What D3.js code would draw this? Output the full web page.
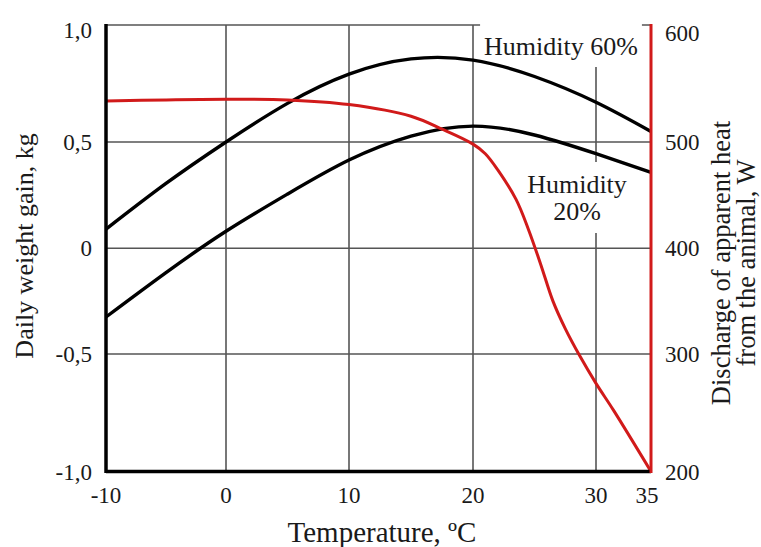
<!DOCTYPE html>
<html>
<head>
<meta charset="utf-8">
<script src="https://cdn.jsdelivr.net/npm/d3@7"></script>
<style>
    body { margin: 0; background: #fff; }
</style>
</head>
<body>
<div id="chart"></div>
<script>
// axis ticks
var tempTicks = [-10, 0, 10, 20, 30, 35];
var gainTicks = [-1, -0.5, 0, 0.5, 1];
var heatTicks = [200, 300, 400, 500, 600];

// daily weight gain, kg
var gainTemp = [-10, -5, 0, 5, 10, 15, 20, 25, 30, 35];
var gain60 = [0.09, 0.305, 0.5, 0.665, 0.79, 0.855, 0.85, 0.78, 0.67, 0.545];
var gain20 = [-0.325, -0.115, 0.08, 0.255, 0.415, 0.525, 0.568, 0.53, 0.445, 0.357];

// discharge of apparent heat, W
var heatTemp = [-10, -5, 0, 5, 10, 15, 17.5, 20, 21, 22, 23.5, 24.5, 25.5, 26.5, 27.5, 28.7, 30, 31.6, 35];
var heat = [535, 536, 536.5, 536, 532, 522, 511, 498, 489, 474, 446, 418, 385, 350, 324, 298, 275, 252, 200];

var width = 761, height = 547;
var red = "#d11a1a";
var gridColor = "#555";
var serif = "'Liberation Serif', 'Times New Roman', 'DejaVu Serif', serif";

var svg = d3.select("#chart").append("svg")
    .attr("width", width)
    .attr("height", height)
    .attr("font-family", serif)
    .style("font-family", serif);

svg.append("rect").attr("width", width).attr("height", height).attr("fill", "#fff");

// the temperature scale is a bit tighter between 30 and 35
var x = d3.scaleLinear().domain(tempTicks).range([106, 226, 349, 473, 596, 651]);
var yRange = [471.5, 354, 248.3, 142, 25];
var y = d3.scaleLinear().domain(gainTicks).range(yRange);
var yHeat = d3.scaleLinear().domain(heatTicks).range(yRange);

var fmtGain = function (d) {
    return d === 0 ? "0" : d.toFixed(1).replace(".", ",");
}

//grid
var grid = svg.append("g").attr("class", "grid");
grid.selectAll("line.v")
    .data(tempTicks.slice(1, -1))
    .join("line")
    .attr("class", "v")
    .attr("x1", d => x(d)).attr("x2", d => x(d))
    .attr("y1", y(1)).attr("y2", y(-1))
    .attr("stroke", gridColor)
    .attr("stroke-width", 1.6);
grid.selectAll("line.h")
    .data(gainTicks.slice(1))
    .join("line")
    .attr("class", "h")
    .attr("x1", x(-10)).attr("x2", x(35))
    .attr("y1", d => y(d)).attr("y2", d => y(d))
    .attr("stroke", gridColor)
    .attr("stroke-width", 1.6);

//curve labels, on white boxes so the grid breaks behind them
var labels = svg.append("g").attr("class", "labels");
var addLabel = function (lines, cx, baseline, lineHeight, pad) {
    var g = labels.append("g");
    var box = g.append("rect").attr("fill", "#fff");
    var t = g.append("text")
        .attr("text-anchor", "middle")
        .attr("fill", "#1a1a1a")
        .style("font-size", "26px");
    lines.forEach(function (s, i) {
        t.append("tspan").attr("x", cx).attr("y", baseline + i * lineHeight).text(s);
    });
    var bb = t.node().getBBox();
    box.attr("x", bb.x - pad[0]).attr("y", bb.y - pad[1])
        .attr("width", bb.width + 2 * pad[0])
        .attr("height", bb.height + pad[1] + pad[2]);
}
addLabel(["Humidity 60%"], x(30) - 35, 55, 0, [4, 10, 6]);
addLabel(["Humidity", "20%"], x(30) - 19, 193, 27, [4, 8, 7]);

//curves
var smooth = d3.line().curve(d3.curveNatural);
var line = d3.line().curve(d3.curveCatmullRom.alpha(0.5));
var curves = svg.append("g").attr("class", "curves");
[gain60, gain20].forEach(function (series) {
    curves.append("path")
        .attr("d", smooth(gainTemp.map((t, i) => [x(t), y(series[i])])))
        .attr("fill", "none")
        .attr("stroke", "#000")
        .attr("stroke-width", 3.4);
});
curves.append("path")
    .attr("d", line(heatTemp.map((t, i) => [x(t), yHeat(heat[i])])))
    .attr("fill", "none")
    .attr("stroke", red)
    .attr("stroke-width", 3);

//axis lines
var axes = svg.append("g").attr("class", "axes");
axes.append("line")
    .attr("x1", x(-10)).attr("x2", x(-10))
    .attr("y1", y(1) - 1).attr("y2", y(-1) + 1.5)
    .attr("stroke", "#000").attr("stroke-width", 3.5);
axes.append("line")
    .attr("x1", x(-10)).attr("x2", x(35))
    .attr("y1", y(-1)).attr("y2", y(-1))
    .attr("stroke", "#000").attr("stroke-width", 3.5);
axes.append("line")
    .attr("x1", x(35)).attr("x2", x(35))
    .attr("y1", y(1) - 1).attr("y2", y(-1) + 1.5)
    .attr("stroke", red).attr("stroke-width", 3);

//tick labels
axes.selectAll("text.tx")
    .data(tempTicks)
    .join("text")
    .attr("class", "tx")
    .attr("x", d => x(d) - (d === 35 ? 4 : 0))
    .attr("y", 503)
    .attr("text-anchor", "middle")
    .attr("fill", "#1a1a1a")
    .style("font-size", "23px")
    .text(d => d);
axes.selectAll("text.ty")
    .data(gainTicks)
    .join("text")
    .attr("class", "ty")
    .attr("x", 92)
    .attr("y", d => y(d) + (d === 1 ? 5 : 0))
    .attr("dy", "0.35em")
    .attr("text-anchor", "end")
    .attr("fill", "#1a1a1a")
    .style("font-size", "23px")
    .text(fmtGain);
axes.selectAll("text.tr")
    .data(heatTicks)
    .join("text")
    .attr("class", "tr")
    .attr("x", 665)
    .attr("y", d => yHeat(d) + (d === 600 ? 8 : 0))
    .attr("dy", "0.35em")
    .attr("text-anchor", "start")
    .attr("fill", "#1a1a1a")
    .style("font-size", "23px")
    .text(d => d);

//axis titles
svg.append("text")
    .attr("x", 382)
    .attr("y", 542)
    .attr("text-anchor", "middle")
    .attr("fill", "#1a1a1a")
    .style("font-size", "29px")
    .text("Temperature, ºC");
svg.append("text")
    .attr("transform", "translate(33,246) rotate(-90)")
    .attr("text-anchor", "middle")
    .attr("fill", "#1a1a1a")
    .style("font-size", "26px")
    .text("Daily weight gain, kg");
var rightTitle = svg.append("text")
    .attr("transform", "translate(730,263) rotate(-90)")
    .attr("text-anchor", "middle")
    .attr("fill", "#1a1a1a")
    .style("font-size", "26.5px");
rightTitle.append("tspan").attr("x", 0).attr("y", 0).text("Discharge of apparent heat");
rightTitle.append("tspan").attr("x", 0).attr("y", 25).text("from the animal, W");
</script>
</body>
</html>
